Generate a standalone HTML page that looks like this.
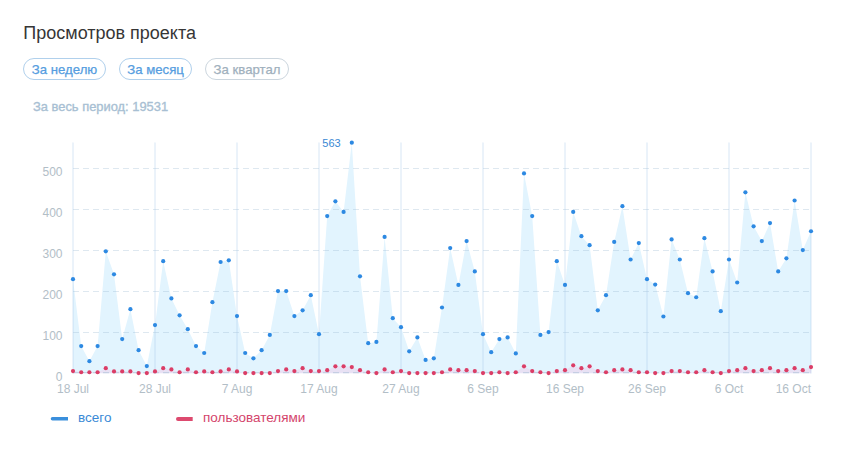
<!DOCTYPE html>
<html><head><meta charset="utf-8"><style>
html,body{margin:0;padding:0;background:#fff;}
body{width:846px;height:463px;position:relative;overflow:hidden;font-family:"Liberation Sans",sans-serif;}
.t{position:absolute;left:23.3px;top:24px;font-size:18px;color:#363636;white-space:nowrap;line-height:1;}
.b{position:absolute;top:58px;height:20px;border:1px solid #b0d0ec;border-radius:11px;font-size:13.2px;line-height:22px;color:#559de0;-webkit-text-stroke:0.25px currentColor;box-sizing:content-box;text-align:center;white-space:nowrap;}
.b3{border-color:#ccd6de;color:#9fb0bd;}
.p{position:absolute;left:33px;top:101.3px;font-size:12.9px;color:#a8bfd3;white-space:nowrap;line-height:1;-webkit-text-stroke:0.35px currentColor;}
svg{position:absolute;left:0;top:0;}
.ax{font-size:12px;fill:#b2bec7;-webkit-text-stroke:0.15px #b2bec7;font-family:"Liberation Sans",sans-serif;}
.dl{font-size:11px;-webkit-text-stroke:0.2px #3a88d4;fill:#3a88d4;font-family:"Liberation Sans",sans-serif;}
.lg{font-size:13.5px;-webkit-text-stroke:0.2px currentColor;font-family:"Liberation Sans",sans-serif;}
</style></head><body>
<div class="t">Просмотров проекта</div>
<div class="b" style="left:23px;width:81px">За неделю</div>
<div class="b" style="left:119px;width:71px">За месяц</div>
<div class="b b3" style="left:205px;width:82px">За квартал</div>
<div class="p">За весь период: 19531</div>
<svg width="846" height="463" viewBox="0 0 846 463">
<path d="M73.00,373.2 L73.00,279.20 L81.20,346.03 L89.40,361.20 L97.60,346.03 L105.80,251.32 L114.00,274.28 L122.20,339.06 L130.40,309.13 L138.60,350.13 L146.80,366.12 L155.00,325.12 L163.20,261.16 L171.40,298.47 L179.60,315.28 L187.80,329.22 L196.00,346.03 L204.20,353.00 L212.40,302.16 L220.60,261.98 L228.80,260.34 L237.00,316.10 L245.20,353.00 L253.40,358.33 L261.60,350.13 L269.80,334.96 L278.00,291.09 L286.20,291.09 L294.40,316.10 L302.60,310.36 L310.80,295.19 L319.00,334.14 L327.20,216.06 L335.40,201.30 L343.60,211.96 L351.80,142.67 L360.00,276.33 L368.20,343.16 L376.40,341.93 L384.60,236.97 L392.80,318.15 L401.00,327.17 L409.20,351.36 L417.40,337.42 L425.60,359.97 L433.80,358.33 L442.00,307.49 L450.20,248.04 L458.40,284.94 L466.60,241.07 L474.80,271.41 L483.00,334.14 L491.20,352.18 L499.40,339.06 L507.60,337.42 L515.80,353.41 L524.00,173.42 L532.20,216.06 L540.40,334.96 L548.60,332.09 L556.80,261.16 L565.00,284.94 L573.20,211.96 L581.40,236.15 L589.60,245.17 L597.80,310.36 L606.00,295.19 L614.20,241.89 L622.40,206.22 L630.60,259.52 L638.80,243.12 L647.00,279.20 L655.20,284.53 L663.40,316.51 L671.60,239.43 L679.80,259.52 L688.00,293.14 L696.20,297.24 L704.40,238.20 L712.60,271.41 L720.80,311.18 L729.00,259.52 L737.20,282.48 L745.40,192.28 L753.60,226.31 L761.80,241.07 L770.00,223.03 L778.20,271.41 L786.40,258.29 L794.60,200.48 L802.80,250.09 L811.00,231.23 L811.00,373.2 Z" fill="#e2f4fe"/>
<path d="M73.00,373.2 L73.00,371.04 L81.20,372.27 L89.40,372.27 L97.60,372.27 L105.80,368.17 L114.00,371.45 L122.20,371.45 L130.40,371.45 L138.60,373.09 L146.80,373.09 L155.00,371.45 L163.20,368.17 L171.40,369.40 L179.60,372.27 L187.80,369.40 L196.00,372.27 L204.20,371.45 L212.40,372.27 L220.60,371.45 L228.80,369.40 L237.00,371.45 L245.20,373.09 L253.40,373.09 L261.60,373.09 L269.80,373.09 L278.00,371.04 L286.20,369.40 L294.40,371.04 L302.60,368.17 L310.80,371.04 L319.00,371.04 L327.20,370.22 L335.40,366.28 L343.60,366.28 L351.80,367.10 L360.00,370.22 L368.20,372.27 L376.40,373.09 L384.60,369.40 L392.80,372.27 L401.00,371.04 L409.20,373.09 L417.40,373.09 L425.60,373.09 L433.80,373.09 L442.00,372.27 L450.20,369.40 L458.40,370.22 L466.60,370.22 L474.80,371.04 L483.00,373.09 L491.20,373.09 L499.40,372.27 L507.60,373.09 L515.80,372.27 L524.00,366.28 L532.20,371.04 L540.40,372.27 L548.60,373.09 L556.80,371.04 L565.00,370.22 L573.20,365.30 L581.40,368.17 L589.60,366.28 L597.80,371.04 L606.00,372.27 L614.20,370.22 L622.40,369.40 L630.60,370.22 L638.80,372.27 L647.00,372.27 L655.20,373.09 L663.40,373.09 L671.60,371.04 L679.80,371.04 L688.00,372.27 L696.20,372.27 L704.40,370.22 L712.60,372.27 L720.80,373.09 L729.00,371.04 L737.20,370.22 L745.40,368.17 L753.60,371.04 L761.80,370.22 L770.00,368.17 L778.20,371.04 L786.40,370.22 L794.60,368.17 L802.80,370.22 L811.00,367.10 L811.00,373.2 Z" fill="rgb(250,170,215)" fill-opacity="0.26"/>
<line x1="73" x2="811" y1="372.7" y2="372.7" stroke="rgb(150,180,205)" stroke-opacity="0.5" stroke-width="1" stroke-dasharray="6 4"/>
<line x1="73" x2="811" y1="332.5" y2="332.5" stroke="rgb(150,180,205)" stroke-opacity="0.31" stroke-width="1" stroke-dasharray="6 4"/>
<line x1="73" x2="811" y1="291.5" y2="291.5" stroke="rgb(150,180,205)" stroke-opacity="0.31" stroke-width="1" stroke-dasharray="6 4"/>
<line x1="73" x2="811" y1="250.5" y2="250.5" stroke="rgb(150,180,205)" stroke-opacity="0.31" stroke-width="1" stroke-dasharray="6 4"/>
<line x1="73" x2="811" y1="209.5" y2="209.5" stroke="rgb(150,180,205)" stroke-opacity="0.31" stroke-width="1" stroke-dasharray="6 4"/>
<line x1="73" x2="811" y1="168.5" y2="168.5" stroke="rgb(150,180,205)" stroke-opacity="0.31" stroke-width="1" stroke-dasharray="6 4"/>
<line x1="73" x2="73" y1="142.5" y2="373.5" stroke="rgb(165,200,232)" stroke-opacity="0.32" stroke-width="1.4"/>
<line x1="155" x2="155" y1="142.5" y2="373.5" stroke="rgb(165,200,232)" stroke-opacity="0.32" stroke-width="1.4"/>
<line x1="237" x2="237" y1="142.5" y2="373.5" stroke="rgb(165,200,232)" stroke-opacity="0.32" stroke-width="1.4"/>
<line x1="319" x2="319" y1="142.5" y2="373.5" stroke="rgb(165,200,232)" stroke-opacity="0.32" stroke-width="1.4"/>
<line x1="401" x2="401" y1="142.5" y2="373.5" stroke="rgb(165,200,232)" stroke-opacity="0.32" stroke-width="1.4"/>
<line x1="483" x2="483" y1="142.5" y2="373.5" stroke="rgb(165,200,232)" stroke-opacity="0.32" stroke-width="1.4"/>
<line x1="565" x2="565" y1="142.5" y2="373.5" stroke="rgb(165,200,232)" stroke-opacity="0.32" stroke-width="1.4"/>
<line x1="647" x2="647" y1="142.5" y2="373.5" stroke="rgb(165,200,232)" stroke-opacity="0.32" stroke-width="1.4"/>
<line x1="729" x2="729" y1="142.5" y2="373.5" stroke="rgb(165,200,232)" stroke-opacity="0.32" stroke-width="1.4"/>
<line x1="811" x2="811" y1="142.5" y2="373.5" stroke="rgb(165,200,232)" stroke-opacity="0.32" stroke-width="1.4"/>
<circle cx="73.00" cy="279.20" r="2.1" fill="#2d89e2"/>
<circle cx="81.20" cy="346.03" r="2.1" fill="#2d89e2"/>
<circle cx="89.40" cy="361.20" r="2.1" fill="#2d89e2"/>
<circle cx="97.60" cy="346.03" r="2.1" fill="#2d89e2"/>
<circle cx="105.80" cy="251.32" r="2.1" fill="#2d89e2"/>
<circle cx="114.00" cy="274.28" r="2.1" fill="#2d89e2"/>
<circle cx="122.20" cy="339.06" r="2.1" fill="#2d89e2"/>
<circle cx="130.40" cy="309.13" r="2.1" fill="#2d89e2"/>
<circle cx="138.60" cy="350.13" r="2.1" fill="#2d89e2"/>
<circle cx="146.80" cy="366.12" r="2.1" fill="#2d89e2"/>
<circle cx="155.00" cy="325.12" r="2.1" fill="#2d89e2"/>
<circle cx="163.20" cy="261.16" r="2.1" fill="#2d89e2"/>
<circle cx="171.40" cy="298.47" r="2.1" fill="#2d89e2"/>
<circle cx="179.60" cy="315.28" r="2.1" fill="#2d89e2"/>
<circle cx="187.80" cy="329.22" r="2.1" fill="#2d89e2"/>
<circle cx="196.00" cy="346.03" r="2.1" fill="#2d89e2"/>
<circle cx="204.20" cy="353.00" r="2.1" fill="#2d89e2"/>
<circle cx="212.40" cy="302.16" r="2.1" fill="#2d89e2"/>
<circle cx="220.60" cy="261.98" r="2.1" fill="#2d89e2"/>
<circle cx="228.80" cy="260.34" r="2.1" fill="#2d89e2"/>
<circle cx="237.00" cy="316.10" r="2.1" fill="#2d89e2"/>
<circle cx="245.20" cy="353.00" r="2.1" fill="#2d89e2"/>
<circle cx="253.40" cy="358.33" r="2.1" fill="#2d89e2"/>
<circle cx="261.60" cy="350.13" r="2.1" fill="#2d89e2"/>
<circle cx="269.80" cy="334.96" r="2.1" fill="#2d89e2"/>
<circle cx="278.00" cy="291.09" r="2.1" fill="#2d89e2"/>
<circle cx="286.20" cy="291.09" r="2.1" fill="#2d89e2"/>
<circle cx="294.40" cy="316.10" r="2.1" fill="#2d89e2"/>
<circle cx="302.60" cy="310.36" r="2.1" fill="#2d89e2"/>
<circle cx="310.80" cy="295.19" r="2.1" fill="#2d89e2"/>
<circle cx="319.00" cy="334.14" r="2.1" fill="#2d89e2"/>
<circle cx="327.20" cy="216.06" r="2.1" fill="#2d89e2"/>
<circle cx="335.40" cy="201.30" r="2.1" fill="#2d89e2"/>
<circle cx="343.60" cy="211.96" r="2.1" fill="#2d89e2"/>
<circle cx="351.80" cy="142.67" r="2.1" fill="#2d89e2"/>
<circle cx="360.00" cy="276.33" r="2.1" fill="#2d89e2"/>
<circle cx="368.20" cy="343.16" r="2.1" fill="#2d89e2"/>
<circle cx="376.40" cy="341.93" r="2.1" fill="#2d89e2"/>
<circle cx="384.60" cy="236.97" r="2.1" fill="#2d89e2"/>
<circle cx="392.80" cy="318.15" r="2.1" fill="#2d89e2"/>
<circle cx="401.00" cy="327.17" r="2.1" fill="#2d89e2"/>
<circle cx="409.20" cy="351.36" r="2.1" fill="#2d89e2"/>
<circle cx="417.40" cy="337.42" r="2.1" fill="#2d89e2"/>
<circle cx="425.60" cy="359.97" r="2.1" fill="#2d89e2"/>
<circle cx="433.80" cy="358.33" r="2.1" fill="#2d89e2"/>
<circle cx="442.00" cy="307.49" r="2.1" fill="#2d89e2"/>
<circle cx="450.20" cy="248.04" r="2.1" fill="#2d89e2"/>
<circle cx="458.40" cy="284.94" r="2.1" fill="#2d89e2"/>
<circle cx="466.60" cy="241.07" r="2.1" fill="#2d89e2"/>
<circle cx="474.80" cy="271.41" r="2.1" fill="#2d89e2"/>
<circle cx="483.00" cy="334.14" r="2.1" fill="#2d89e2"/>
<circle cx="491.20" cy="352.18" r="2.1" fill="#2d89e2"/>
<circle cx="499.40" cy="339.06" r="2.1" fill="#2d89e2"/>
<circle cx="507.60" cy="337.42" r="2.1" fill="#2d89e2"/>
<circle cx="515.80" cy="353.41" r="2.1" fill="#2d89e2"/>
<circle cx="524.00" cy="173.42" r="2.1" fill="#2d89e2"/>
<circle cx="532.20" cy="216.06" r="2.1" fill="#2d89e2"/>
<circle cx="540.40" cy="334.96" r="2.1" fill="#2d89e2"/>
<circle cx="548.60" cy="332.09" r="2.1" fill="#2d89e2"/>
<circle cx="556.80" cy="261.16" r="2.1" fill="#2d89e2"/>
<circle cx="565.00" cy="284.94" r="2.1" fill="#2d89e2"/>
<circle cx="573.20" cy="211.96" r="2.1" fill="#2d89e2"/>
<circle cx="581.40" cy="236.15" r="2.1" fill="#2d89e2"/>
<circle cx="589.60" cy="245.17" r="2.1" fill="#2d89e2"/>
<circle cx="597.80" cy="310.36" r="2.1" fill="#2d89e2"/>
<circle cx="606.00" cy="295.19" r="2.1" fill="#2d89e2"/>
<circle cx="614.20" cy="241.89" r="2.1" fill="#2d89e2"/>
<circle cx="622.40" cy="206.22" r="2.1" fill="#2d89e2"/>
<circle cx="630.60" cy="259.52" r="2.1" fill="#2d89e2"/>
<circle cx="638.80" cy="243.12" r="2.1" fill="#2d89e2"/>
<circle cx="647.00" cy="279.20" r="2.1" fill="#2d89e2"/>
<circle cx="655.20" cy="284.53" r="2.1" fill="#2d89e2"/>
<circle cx="663.40" cy="316.51" r="2.1" fill="#2d89e2"/>
<circle cx="671.60" cy="239.43" r="2.1" fill="#2d89e2"/>
<circle cx="679.80" cy="259.52" r="2.1" fill="#2d89e2"/>
<circle cx="688.00" cy="293.14" r="2.1" fill="#2d89e2"/>
<circle cx="696.20" cy="297.24" r="2.1" fill="#2d89e2"/>
<circle cx="704.40" cy="238.20" r="2.1" fill="#2d89e2"/>
<circle cx="712.60" cy="271.41" r="2.1" fill="#2d89e2"/>
<circle cx="720.80" cy="311.18" r="2.1" fill="#2d89e2"/>
<circle cx="729.00" cy="259.52" r="2.1" fill="#2d89e2"/>
<circle cx="737.20" cy="282.48" r="2.1" fill="#2d89e2"/>
<circle cx="745.40" cy="192.28" r="2.1" fill="#2d89e2"/>
<circle cx="753.60" cy="226.31" r="2.1" fill="#2d89e2"/>
<circle cx="761.80" cy="241.07" r="2.1" fill="#2d89e2"/>
<circle cx="770.00" cy="223.03" r="2.1" fill="#2d89e2"/>
<circle cx="778.20" cy="271.41" r="2.1" fill="#2d89e2"/>
<circle cx="786.40" cy="258.29" r="2.1" fill="#2d89e2"/>
<circle cx="794.60" cy="200.48" r="2.1" fill="#2d89e2"/>
<circle cx="802.80" cy="250.09" r="2.1" fill="#2d89e2"/>
<circle cx="811.00" cy="231.23" r="2.1" fill="#2d89e2"/>
<circle cx="73.00" cy="371.04" r="2.1" fill="#db3d66"/>
<circle cx="81.20" cy="372.27" r="2.1" fill="#db3d66"/>
<circle cx="89.40" cy="372.27" r="2.1" fill="#db3d66"/>
<circle cx="97.60" cy="372.27" r="2.1" fill="#db3d66"/>
<circle cx="105.80" cy="368.17" r="2.1" fill="#db3d66"/>
<circle cx="114.00" cy="371.45" r="2.1" fill="#db3d66"/>
<circle cx="122.20" cy="371.45" r="2.1" fill="#db3d66"/>
<circle cx="130.40" cy="371.45" r="2.1" fill="#db3d66"/>
<circle cx="138.60" cy="373.09" r="2.1" fill="#db3d66"/>
<circle cx="146.80" cy="373.09" r="2.1" fill="#db3d66"/>
<circle cx="155.00" cy="371.45" r="2.1" fill="#db3d66"/>
<circle cx="163.20" cy="368.17" r="2.1" fill="#db3d66"/>
<circle cx="171.40" cy="369.40" r="2.1" fill="#db3d66"/>
<circle cx="179.60" cy="372.27" r="2.1" fill="#db3d66"/>
<circle cx="187.80" cy="369.40" r="2.1" fill="#db3d66"/>
<circle cx="196.00" cy="372.27" r="2.1" fill="#db3d66"/>
<circle cx="204.20" cy="371.45" r="2.1" fill="#db3d66"/>
<circle cx="212.40" cy="372.27" r="2.1" fill="#db3d66"/>
<circle cx="220.60" cy="371.45" r="2.1" fill="#db3d66"/>
<circle cx="228.80" cy="369.40" r="2.1" fill="#db3d66"/>
<circle cx="237.00" cy="371.45" r="2.1" fill="#db3d66"/>
<circle cx="245.20" cy="373.09" r="2.1" fill="#db3d66"/>
<circle cx="253.40" cy="373.09" r="2.1" fill="#db3d66"/>
<circle cx="261.60" cy="373.09" r="2.1" fill="#db3d66"/>
<circle cx="269.80" cy="373.09" r="2.1" fill="#db3d66"/>
<circle cx="278.00" cy="371.04" r="2.1" fill="#db3d66"/>
<circle cx="286.20" cy="369.40" r="2.1" fill="#db3d66"/>
<circle cx="294.40" cy="371.04" r="2.1" fill="#db3d66"/>
<circle cx="302.60" cy="368.17" r="2.1" fill="#db3d66"/>
<circle cx="310.80" cy="371.04" r="2.1" fill="#db3d66"/>
<circle cx="319.00" cy="371.04" r="2.1" fill="#db3d66"/>
<circle cx="327.20" cy="370.22" r="2.1" fill="#db3d66"/>
<circle cx="335.40" cy="366.28" r="2.1" fill="#db3d66"/>
<circle cx="343.60" cy="366.28" r="2.1" fill="#db3d66"/>
<circle cx="351.80" cy="367.10" r="2.1" fill="#db3d66"/>
<circle cx="360.00" cy="370.22" r="2.1" fill="#db3d66"/>
<circle cx="368.20" cy="372.27" r="2.1" fill="#db3d66"/>
<circle cx="376.40" cy="373.09" r="2.1" fill="#db3d66"/>
<circle cx="384.60" cy="369.40" r="2.1" fill="#db3d66"/>
<circle cx="392.80" cy="372.27" r="2.1" fill="#db3d66"/>
<circle cx="401.00" cy="371.04" r="2.1" fill="#db3d66"/>
<circle cx="409.20" cy="373.09" r="2.1" fill="#db3d66"/>
<circle cx="417.40" cy="373.09" r="2.1" fill="#db3d66"/>
<circle cx="425.60" cy="373.09" r="2.1" fill="#db3d66"/>
<circle cx="433.80" cy="373.09" r="2.1" fill="#db3d66"/>
<circle cx="442.00" cy="372.27" r="2.1" fill="#db3d66"/>
<circle cx="450.20" cy="369.40" r="2.1" fill="#db3d66"/>
<circle cx="458.40" cy="370.22" r="2.1" fill="#db3d66"/>
<circle cx="466.60" cy="370.22" r="2.1" fill="#db3d66"/>
<circle cx="474.80" cy="371.04" r="2.1" fill="#db3d66"/>
<circle cx="483.00" cy="373.09" r="2.1" fill="#db3d66"/>
<circle cx="491.20" cy="373.09" r="2.1" fill="#db3d66"/>
<circle cx="499.40" cy="372.27" r="2.1" fill="#db3d66"/>
<circle cx="507.60" cy="373.09" r="2.1" fill="#db3d66"/>
<circle cx="515.80" cy="372.27" r="2.1" fill="#db3d66"/>
<circle cx="524.00" cy="366.28" r="2.1" fill="#db3d66"/>
<circle cx="532.20" cy="371.04" r="2.1" fill="#db3d66"/>
<circle cx="540.40" cy="372.27" r="2.1" fill="#db3d66"/>
<circle cx="548.60" cy="373.09" r="2.1" fill="#db3d66"/>
<circle cx="556.80" cy="371.04" r="2.1" fill="#db3d66"/>
<circle cx="565.00" cy="370.22" r="2.1" fill="#db3d66"/>
<circle cx="573.20" cy="365.30" r="2.1" fill="#db3d66"/>
<circle cx="581.40" cy="368.17" r="2.1" fill="#db3d66"/>
<circle cx="589.60" cy="366.28" r="2.1" fill="#db3d66"/>
<circle cx="597.80" cy="371.04" r="2.1" fill="#db3d66"/>
<circle cx="606.00" cy="372.27" r="2.1" fill="#db3d66"/>
<circle cx="614.20" cy="370.22" r="2.1" fill="#db3d66"/>
<circle cx="622.40" cy="369.40" r="2.1" fill="#db3d66"/>
<circle cx="630.60" cy="370.22" r="2.1" fill="#db3d66"/>
<circle cx="638.80" cy="372.27" r="2.1" fill="#db3d66"/>
<circle cx="647.00" cy="372.27" r="2.1" fill="#db3d66"/>
<circle cx="655.20" cy="373.09" r="2.1" fill="#db3d66"/>
<circle cx="663.40" cy="373.09" r="2.1" fill="#db3d66"/>
<circle cx="671.60" cy="371.04" r="2.1" fill="#db3d66"/>
<circle cx="679.80" cy="371.04" r="2.1" fill="#db3d66"/>
<circle cx="688.00" cy="372.27" r="2.1" fill="#db3d66"/>
<circle cx="696.20" cy="372.27" r="2.1" fill="#db3d66"/>
<circle cx="704.40" cy="370.22" r="2.1" fill="#db3d66"/>
<circle cx="712.60" cy="372.27" r="2.1" fill="#db3d66"/>
<circle cx="720.80" cy="373.09" r="2.1" fill="#db3d66"/>
<circle cx="729.00" cy="371.04" r="2.1" fill="#db3d66"/>
<circle cx="737.20" cy="370.22" r="2.1" fill="#db3d66"/>
<circle cx="745.40" cy="368.17" r="2.1" fill="#db3d66"/>
<circle cx="753.60" cy="371.04" r="2.1" fill="#db3d66"/>
<circle cx="761.80" cy="370.22" r="2.1" fill="#db3d66"/>
<circle cx="770.00" cy="368.17" r="2.1" fill="#db3d66"/>
<circle cx="778.20" cy="371.04" r="2.1" fill="#db3d66"/>
<circle cx="786.40" cy="370.22" r="2.1" fill="#db3d66"/>
<circle cx="794.60" cy="368.17" r="2.1" fill="#db3d66"/>
<circle cx="802.80" cy="370.22" r="2.1" fill="#db3d66"/>
<circle cx="811.00" cy="367.10" r="2.1" fill="#db3d66"/>
<text x="62.5" y="381.0" text-anchor="end" class="ax">0</text>
<text x="62.5" y="340.0" text-anchor="end" class="ax">100</text>
<text x="62.5" y="299.0" text-anchor="end" class="ax">200</text>
<text x="62.5" y="258.0" text-anchor="end" class="ax">300</text>
<text x="62.5" y="217.0" text-anchor="end" class="ax">400</text>
<text x="62.5" y="176.0" text-anchor="end" class="ax">500</text>
<text x="73" y="392.5" text-anchor="middle" class="ax">18 Jul</text>
<text x="155" y="392.5" text-anchor="middle" class="ax">28 Jul</text>
<text x="237" y="392.5" text-anchor="middle" class="ax">7 Aug</text>
<text x="319" y="392.5" text-anchor="middle" class="ax">17 Aug</text>
<text x="401" y="392.5" text-anchor="middle" class="ax">27 Aug</text>
<text x="483" y="392.5" text-anchor="middle" class="ax">6 Sep</text>
<text x="565" y="392.5" text-anchor="middle" class="ax">16 Sep</text>
<text x="647" y="392.5" text-anchor="middle" class="ax">26 Sep</text>
<text x="729" y="392.5" text-anchor="middle" class="ax">6 Oct</text>
<text x="811" y="392.5" text-anchor="end" class="ax">16 Oct</text>
<text x="340.7" y="147" text-anchor="end" class="dl">563</text>
<path d="M52.5,417 H68 V420.6 H52.5 A1.8,1.8 0 0 1 52.5,417 Z" fill="#3a8fdc"/>
<text x="78" y="422.2" class="lg" fill="#3a8ad6" color="#3a8ad6">всего</text>
<path d="M178,417 H192.7 V421 H178 A2,2 0 0 1 178,417 Z" fill="#dd4a6f"/>
<text x="203" y="422.4" class="lg" fill="#d4456c" color="#d4456c">пользователями</text>
</svg>
</body></html>
